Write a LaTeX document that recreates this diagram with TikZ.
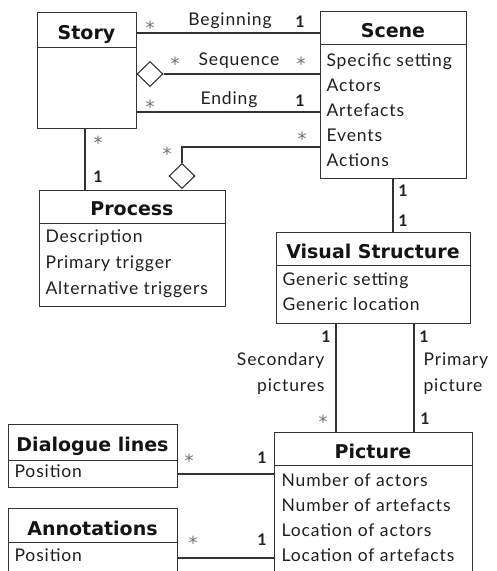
\documentclass[tikz,border=0pt]{standalone}
\usepackage{fontspec}
\setmainfont{Lato}
\newfontfamily\spacedfont{Lato}[LetterSpace=5]
\newfontfamily\astfont{DejaVu Sans}
\newfontfamily\titlefont{DejaVu Sans}
\usetikzlibrary{shapes.geometric}
\definecolor{ln}{HTML}{333333}
\definecolor{ast}{HTML}{6e6e6e}
\begin{document}
\begin{tikzpicture}[x=1pt,y=-1pt,
  line width=1.1pt,
  boxpart/.style={draw=ln, line width=1.1pt, rectangle, inner sep=0pt, anchor=north west},
  ttl/.style={font=\titlefont\bfseries\fontsize{19}{20}\selectfont, anchor=base, inner sep=0pt, text=black!92},
  attr/.style={font=\spacedfont\fontsize{17.5}{20}\selectfont, anchor=base west, inner sep=0pt, text=black!88},
  lbl/.style={font=\spacedfont\fontsize{17.5}{20}\selectfont, inner sep=0pt, text=black!88},
  one/.style={font=\fontsize{16}{20}\selectfont\bfseries, inner sep=0pt, text=black!88},
  many/.style={font=\astfont\fontsize{18}{20}\selectfont, inner sep=0pt, anchor=base, text=ast},
  agg/.style={diamond, draw=ln, line width=1.1pt, fill=white, inner sep=0pt, minimum width=26pt, minimum height=25pt},
  conn/.style={draw=ln, line width=1.1pt}
]
\useasboundingbox (0,0) rectangle (496,571);
\clip (0,0) rectangle (496,571);

% Story
\node[boxpart, minimum width=99pt, minimum height=34.7pt] (storyh) at (37,12) {};
\node[boxpart, minimum width=99pt, minimum height=81.3pt] (story) at (37,46.7) {};
\node[ttl] (storyt) at (86.5,39) {Story};

% Scene
\node[boxpart, minimum width=146pt, minimum height=33pt] (sceneh) at (320,11) {};
\node[boxpart, minimum width=146pt, minimum height=134pt] (scene) at (320,44) {};
\node[ttl] (scenet) at (393,37.5) {Scene};
\node[attr] (sc1) at (326,66) {Specific setting};
\node[attr] (sc2) at (326,91.5) {Actors};
\node[attr] (sc3) at (326,116.5) {Artefacts};
\node[attr] (sc4) at (326,141.5) {Events};
\node[attr] (sc5) at (326,166.5) {Actions};

% Process
\node[boxpart, minimum width=186pt, minimum height=33pt] (processh) at (39,190) {};
\node[boxpart, minimum width=186pt, minimum height=83pt] (process) at (39,223) {};
\node[ttl] (processt) at (132,215.7) {Process};
\node[attr] (pr1) at (45,242.7) {Description};
\node[attr] (pr2) at (45,268.3) {Primary trigger};
\node[attr] (pr3) at (45,294) {Alternative triggers};

% Visual Structure
\node[boxpart, minimum width=194pt, minimum height=33pt] (vsh) at (276,232) {};
\node[boxpart, minimum width=194pt, minimum height=58pt] (vs) at (276,265) {};
\node[ttl] (vst) at (373,258.3) {Visual Structure};
\node[attr] (vs1) at (282,285) {Generic setting};
\node[attr] (vs2) at (282,310.7) {Generic location};

% Picture
\node[boxpart, minimum width=198pt, minimum height=33pt] (pich) at (274,432) {};
\node[boxpart, minimum width=198pt, minimum height=140pt] (pic) at (274,465) {};
\node[ttl] (pict) at (373,458.3) {Picture};
\node[attr] (pi1) at (281,486) {Number of actors};
\node[attr] (pi2) at (281,511) {Number of artefacts};
\node[attr] (pi3) at (281,536) {Location of actors};
\node[attr] (pi4) at (281,561) {Location of artefacts};

% Dialogue lines
\node[boxpart, minimum width=169pt, minimum height=36pt] (dlh) at (8,424) {};
\node[boxpart, minimum width=169pt, minimum height=27pt] (dl) at (8,460) {};
\node[ttl] (dlt) at (92.5,451.7) {Dialogue lines};
\node[attr] (dl1) at (14,477.7) {Position};

% Annotations
\node[boxpart, minimum width=169pt, minimum height=34pt] (anh) at (8,508) {};
\node[boxpart, minimum width=169pt, minimum height=60pt] (an) at (8,542) {};
\node[ttl] (ant) at (92.5,535) {Annotations};
\node[attr] (an1) at (14,561) {Position};

% Aggregation diamonds
\node[agg] (d1) at (150,74) {};
\node[agg] (d2) at (182,176) {};

% Connectors
\draw[conn] (storyh.east |- 0,33) -- (sceneh.west |- 0,33);
\draw[conn] (d1.east) -- (scene.west |- d1.east);
\draw[conn] (story.east |- 0,112) -- (scene.west |- 0,112);
\draw[conn] (scene.west |- 0,147) -| (d2.north);
\draw[conn] (story.south -| 85,0) -- (processh.north -| 85,0);
\draw[conn] (scene.south -| 393,0) -- (vsh.north -| 393,0);
\draw[conn] (vs.south -| 336,0) -- (pich.north -| 336,0);
\draw[conn] (vs.south -| 414,0) -- (pich.north -| 414,0);
\draw[conn] (dl.east |- 0,474) -- (pic.west |- 0,474);
\draw[conn] (an.east |- 0,558) -- (pic.west |- 0,558);

% Association labels
\node[lbl, anchor=base] (lbeg) at (230,25.7) {Beginning};
\node[lbl, anchor=base] (lseq) at (239,65.7) {Sequence};
\node[lbl, anchor=base] (lend) at (229,104) {Ending};
\node[lbl, anchor=base east] (lsec1) at (325,365) {Secondary};
\node[lbl, anchor=base east] (lsec2) at (325,391.7) {pictures};
\node[lbl, anchor=base west] (lpri1) at (423,365) {Primary};
\node[lbl, anchor=base west] (lpri2) at (423,391.7) {picture};

% Multiplicities ("*" placed by baseline = centre + 10)
\node[many] (m1) at (150,34) {*};
\node[one] (o1) at (300,22) {1};
\node[many] (m2) at (175,70) {*};
\node[many] (m3) at (301,70) {*};
\node[many] (m4) at (150,113) {*};
\node[one] (o2) at (300,101) {1};
\node[many] (m5) at (302,145) {*};
\node[many] (m6) at (167,160) {*};
\node[many] (m7) at (98,149) {*};
\node[one] (o3) at (98,176.5) {1};
\node[one] (o4) at (403,191) {1};
\node[one] (o5) at (403,221) {1};
\node[one] (o6) at (326,337) {1};
\node[one] (o7) at (424,337) {1};
\node[many] (m8) at (323,428) {*};
\node[one] (o8) at (425,419) {1};
\node[many] (m9) at (189,467) {*};
\node[one] (o9) at (262,458) {1};
\node[many] (m10) at (193,549) {*};
\node[one] (o10) at (262,540) {1};
\end{tikzpicture}
\end{document}
